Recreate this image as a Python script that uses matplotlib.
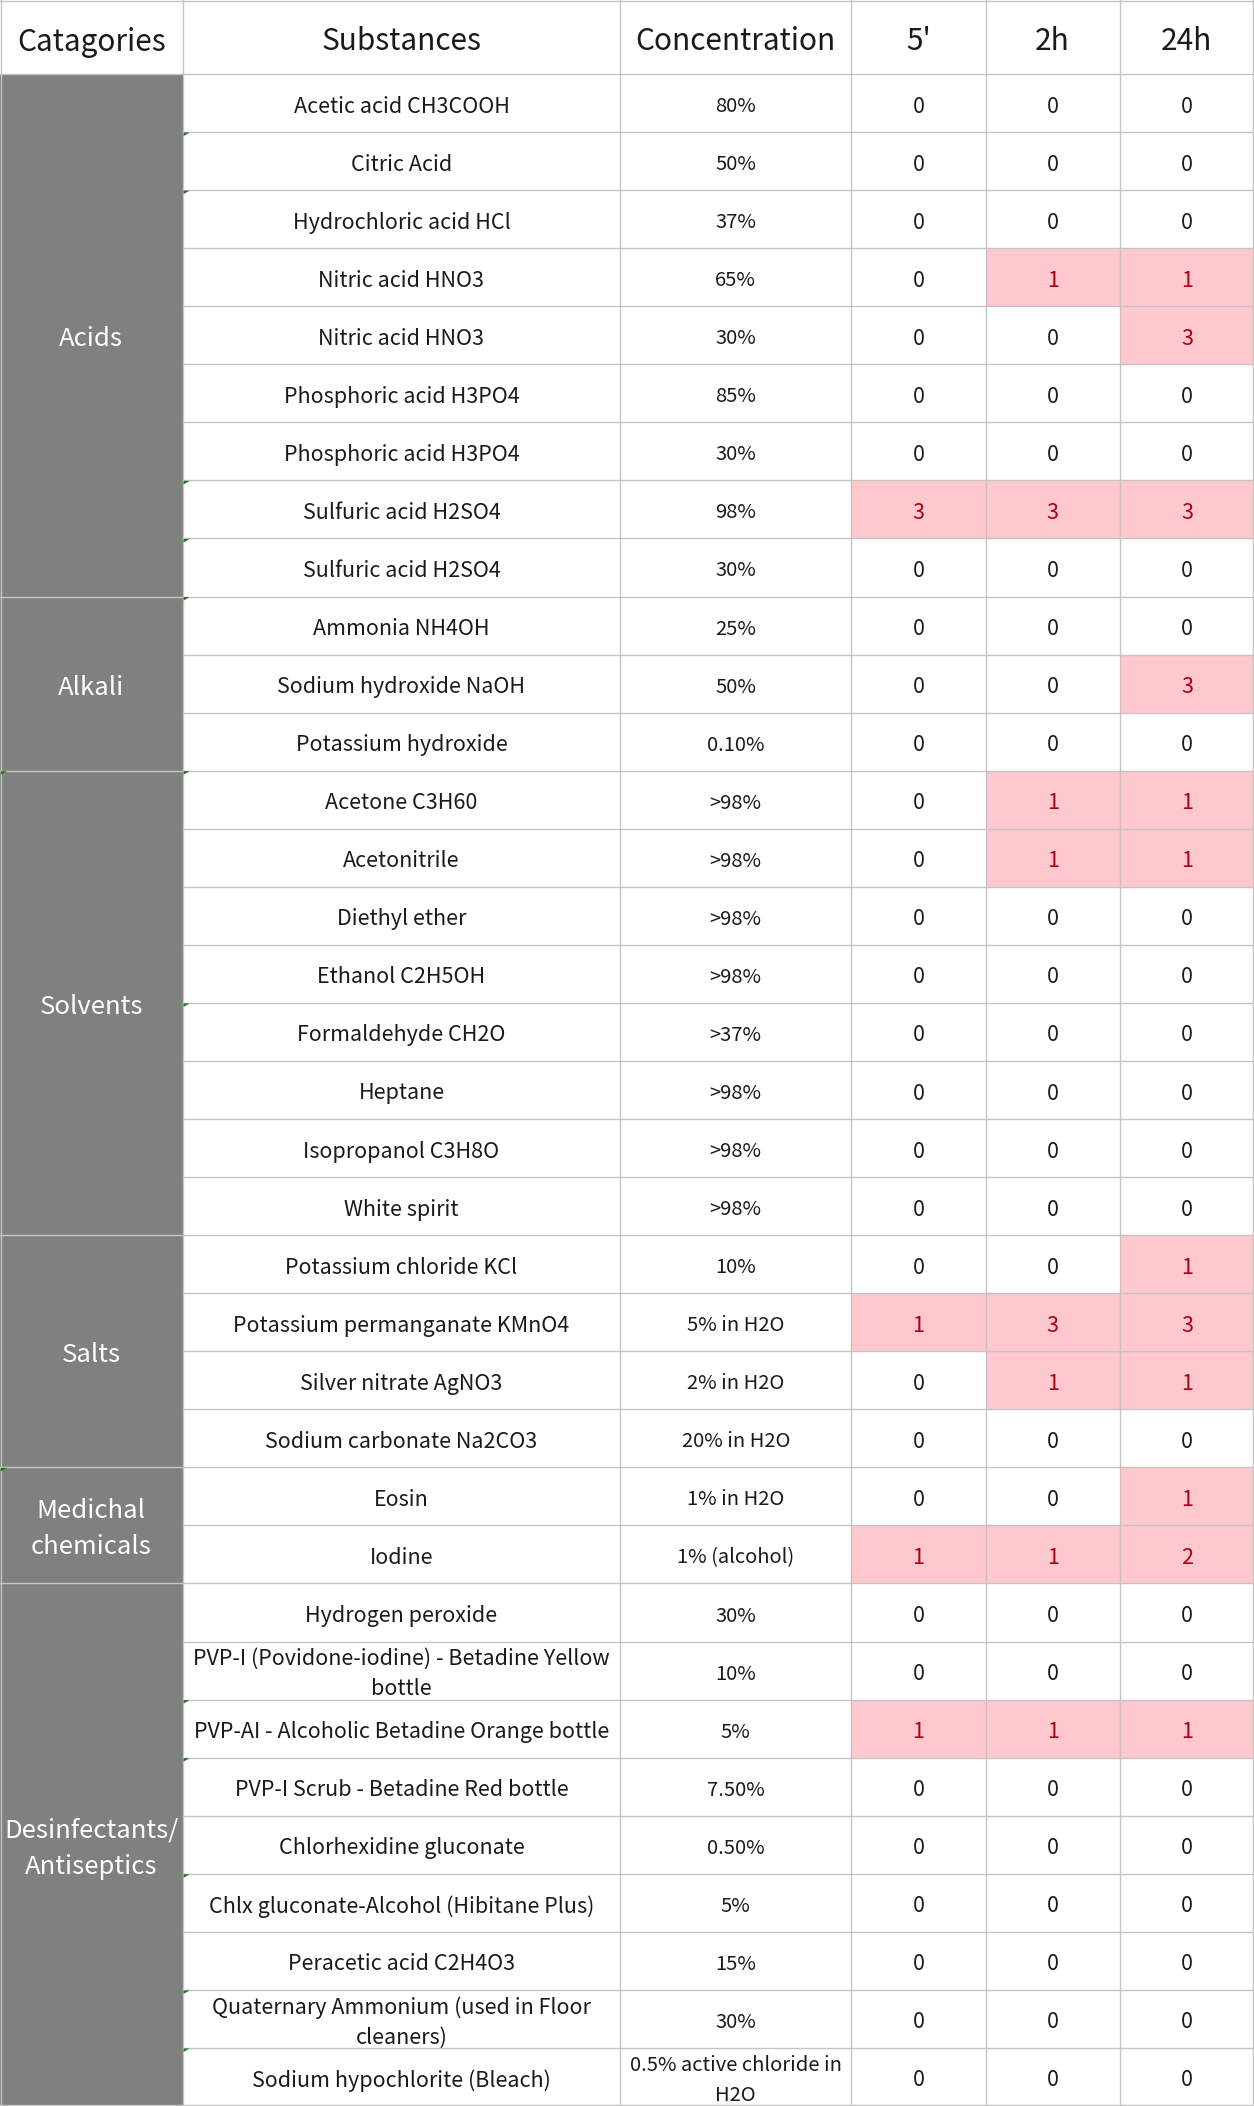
import matplotlib
matplotlib.use("Agg")
import matplotlib.pyplot as plt
from matplotlib.patches import Rectangle, Polygon

plt.rcParams['font.family'] = ['Noto Sans CJK SC', 'DejaVu Sans']
plt.rcParams['font.weight'] = 'light'

# ---------------- data ----------------
headers = ["Catagories", "Substances", "Concentration", "5'", "2h", "24h"]

categories = ["Acids", "Alkali", "Solvents", "Salts",
              "Medichal\nchemicals", "Desinfectants/\nAntiseptics"]
category_counts = [9, 3, 8, 4, 2, 9]

substances = [
    "Acetic acid CH3COOH", "Citric Acid", "Hydrochloric acid HCl",
    "Nitric acid HNO3", "Nitric acid HNO3", "Phosphoric acid H3PO4",
    "Phosphoric acid H3PO4", "Sulfuric acid H2SO4", "Sulfuric acid H2SO4",
    "Ammonia NH4OH", "Sodium hydroxide NaOH", "Potassium hydroxide",
    "Acetone C3H60", "Acetonitrile", "Diethyl ether", "Ethanol C2H5OH",
    "Formaldehyde CH2O", "Heptane", "Isopropanol C3H8O", "White spirit",
    "Potassium chloride KCl", "Potassium permanganate KMnO4",
    "Silver nitrate AgNO3", "Sodium carbonate Na2CO3",
    "Eosin", "Iodine",
    "Hydrogen peroxide", "PVP-I (Povidone-iodine) - Betadine Yellow\nbottle",
    "PVP-AI - Alcoholic Betadine Orange bottle",
    "PVP-I Scrub - Betadine Red bottle", "Chlorhexidine gluconate",
    "Chlx gluconate-Alcohol (Hibitane Plus)", "Peracetic acid C2H4O3",
    "Quaternary Ammonium (used in Floor\ncleaners)",
    "Sodium hypochlorite (Bleach)",
]

concentrations = [
    "80%", "50%", "37%", "65%", "30%", "85%", "30%", "98%", "30%",
    "25%", "50%", "0.10%",
    ">98%", ">98%", ">98%", ">98%", ">37%", ">98%", ">98%", ">98%",
    "10%", "5% in H2O", "2% in H2O", "20% in H2O",
    "1% in H2O", "1% (alcohol)",
    "30%", "10%", "5%", "7.50%", "0.50%", "5%", "15%", "30%",
    "0.5% active chloride in\nH2O",
]

t_5min = [0, 0, 0, 0, 0, 0, 0, 3, 0,
          0, 0, 0,
          0, 0, 0, 0, 0, 0, 0, 0,
          0, 1, 0, 0,
          0, 1,
          0, 0, 1, 0, 0, 0, 0, 0, 0]
t_2h = [0, 0, 0, 1, 0, 0, 0, 3, 0,
        0, 0, 0,
        1, 1, 0, 0, 0, 0, 0, 0,
        0, 3, 1, 0,
        0, 1,
        0, 0, 1, 0, 0, 0, 0, 0, 0]
t_24h = [0, 0, 0, 1, 3, 0, 0, 3, 0,
         0, 3, 0,
         1, 1, 0, 0, 0, 0, 0, 0,
         1, 3, 1, 0,
         1, 2,
         0, 0, 1, 0, 0, 0, 0, 0, 0]

# rows whose substance cell carries a small green corner flag
flag_rows = [1, 2, 7, 8, 9, 12, 16, 28, 29, 31, 33, 34]
flag_categories = ["Solvents", "Medichal\nchemicals"]

# ---------------- layout ----------------
W, H = 1254, 2106
col_edges = [0, 182.6, 620.3, 851.2, 985.5, 1119.7, 1254]
header_h = 74
n_rows = len(substances)
row_h = (H - header_h) / n_rows

GRID = "#C4C4C4"
CAT_FILL = "#808080"
HI_FILL = "#FFC7CE"
HI_TEXT = "#B00010"
TXT = "#1A1A1A"
FLAG = "#1E7B1E"

BODY_FS = 15.5
CONC_FS = 14.5
BODY_DY = 3.5

fig = plt.figure(figsize=(W / 100, H / 100), dpi=100)
ax = fig.add_axes([0, 0, 1, 1])
ax.set_xlim(0, W)
ax.set_ylim(H, 0)
ax.axis("off")
fig.patch.set_facecolor("white")

def cx(c):
    return (col_edges[c] + col_edges[c + 1]) / 2

def row_top(r):
    return header_h + r * row_h

# header
for c, h in enumerate(headers):
    ax.text(cx(c), header_h / 2 + 5, h, ha="center", va="center",
            fontsize=21.5, color=TXT)

# category blocks
start = 0
for cat, cnt in zip(categories, category_counts):
    y0 = row_top(start)
    ax.add_patch(Rectangle((col_edges[0], y0), col_edges[1] - col_edges[0],
                           cnt * row_h, facecolor=CAT_FILL, edgecolor="none"))
    ax.text(cx(0), y0 + cnt * row_h / 2 + 4, cat, ha="center", va="center",
            fontsize=18.5, color="white", linespacing=1.5)
    if cat in flag_categories:
        ax.add_patch(Polygon([(1, y0 + 0.5), (7, y0 + 0.5), (1, y0 + 4)],
                             closed=True, facecolor=FLAG, edgecolor="none", zorder=5))
    start += cnt

# body cells
value_cols = [t_5min, t_2h, t_24h]
for r in range(n_rows):
    y0 = row_top(r)
    yc = y0 + row_h / 2 + BODY_DY
    ax.text(cx(1), yc, substances[r], ha="center", va="center",
            fontsize=BODY_FS, color=TXT, linespacing=1.45)
    ax.text(cx(2), yc, concentrations[r], ha="center", va="center",
            fontsize=CONC_FS, color=TXT, linespacing=1.55)
    for k, vals in enumerate(value_cols):
        c = 3 + k
        v = vals[r]
        if v > 0:
            ax.add_patch(Rectangle((col_edges[c], y0), col_edges[c + 1] - col_edges[c],
                                   row_h, facecolor=HI_FILL, edgecolor="none"))
        ax.text(cx(c), yc, str(v), ha="center", va="center", fontsize=BODY_FS,
                color=HI_TEXT if v > 0 else TXT)
    if r in flag_rows:
        x0 = col_edges[1]
        ax.add_patch(Polygon([(x0 + 1, y0 + 0.5), (x0 + 7, y0 + 0.5), (x0 + 1, y0 + 4)],
                             closed=True, facecolor=FLAG, edgecolor="none", zorder=5))

# grid lines
lw = 1.0
ax.plot([0, W], [header_h, header_h], color=GRID, lw=lw, zorder=4)
for r in range(1, n_rows + 1):
    y = row_top(r)
    ax.plot([col_edges[1], W], [y, y], color=GRID, lw=lw, zorder=4)
acc = 0
for cnt in category_counts:
    acc += cnt
    y = row_top(acc)
    ax.plot([0, col_edges[1]], [y, y], color=GRID, lw=lw, zorder=4)
for x in col_edges:
    xx = min(max(x, 0.6), W - 0.6)
    ax.plot([xx, xx], [0, H], color=GRID, lw=lw, zorder=4)
ax.plot([0, W], [0.6, 0.6], color=GRID, lw=lw, zorder=4)
ax.plot([0, W], [H - 0.6, H - 0.6], color=GRID, lw=lw, zorder=4)

fig.savefig("out.png", dpi=100, facecolor="white")
